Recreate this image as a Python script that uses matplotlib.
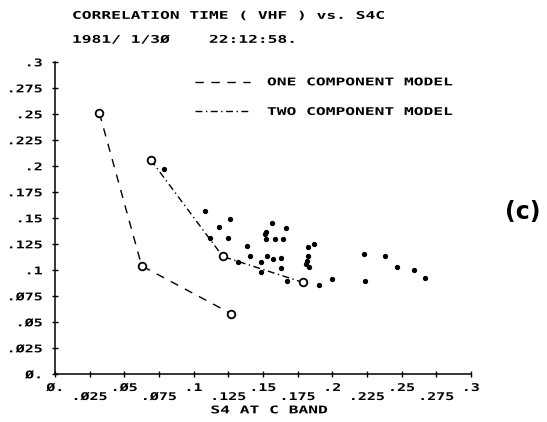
import numpy as np
import matplotlib
matplotlib.use("Agg")
import matplotlib.pyplot as plt
from matplotlib.lines import Line2D
from matplotlib.patheffects import AbstractPathEffect
from matplotlib.transforms import Affine2D

# ---------------- data ----------------
one_x = [0.032, 0.0625, 0.127]
one_y = [0.251, 0.104, 0.058]

two_x = [0.069, 0.121, 0.179]
two_y = [0.206, 0.113, 0.088]

obs_x = [0.0788, 0.1081, 0.1262, 0.1182, 0.1118, 0.1245, 0.1382, 0.1567, 0.1665,
         0.1519, 0.1514, 0.1521, 0.1586, 0.1642, 0.1406, 0.1531, 0.1574, 0.1629,
         0.1485, 0.1322, 0.1627, 0.1485, 0.1826, 0.1869, 0.1826, 0.1815, 0.1810,
         0.1831, 0.1675, 0.1901, 0.1995, 0.2230, 0.2235, 0.2379, 0.2468, 0.2591,
         0.2668]
obs_y = [0.1971, 0.1570, 0.1490, 0.1416, 0.1305, 0.1305, 0.1231, 0.1449, 0.1404,
         0.1363, 0.1343, 0.1298, 0.1298, 0.1298, 0.1138, 0.1138, 0.1103, 0.1118,
         0.1080, 0.1080, 0.1022, 0.0978, 0.1218, 0.1250, 0.1135, 0.1089, 0.1058,
         0.1026, 0.0894, 0.0853, 0.0916, 0.1151, 0.0897, 0.1135, 0.1026, 0.1000,
         0.0926]

y_ticks = [0.0, 0.025, 0.05, 0.075, 0.1, 0.125, 0.15, 0.175, 0.2, 0.225, 0.25, 0.275, 0.3]
y_tick_labels = ["Ø.", ".Ø25", ".Ø5", ".Ø75", ".1", ".125", ".15", ".175", ".2",
                 ".225", ".25", ".275", ".3"]
x_major_ticks = [0.0, 0.05, 0.1, 0.15, 0.2, 0.25, 0.3]
x_major_labels = ["Ø.", ".Ø5", ".1", ".15", ".2", ".25", ".3"]
x_minor_ticks = [0.025, 0.075, 0.125, 0.175, 0.225, 0.275]
x_minor_labels = [".Ø25", ".Ø75", ".125", ".175", ".225", ".275"]

title_line1 = "CORRELATION TIME ( VHF ) vs. S4C"
title_line2 = "1981/ 1/3Ø    22:12:58."
x_label = "S4 AT C BAND"
legend_one = "ONE COMPONENT MODEL"
legend_two = "TWO COMPONENT MODEL"
panel_tag = "(c)"


# plotter-style wide lettering: stretch the glyph outlines of real text objects
class Stretch(AbstractPathEffect):
    def __init__(self, sx=1.0, sy=1.0, anchor="left"):
        super().__init__()
        self.sx, self.sy, self.anchor = sx, sy, anchor

    def draw_path(self, renderer, gc, tpath, affine, rgbFace=None):
        ext = tpath.get_extents()
        if self.anchor == "left":
            cx = 0.0
        elif self.anchor == "right":
            cx = ext.x1
        else:
            cx = 0.5 * (ext.x0 + ext.x1)
        cy = 36.0  # middle of the capitals in text-path units
        t = Affine2D().translate(-cx, -cy).scale(self.sx, self.sy).translate(cx, cy)
        renderer.draw_path(gc, tpath, t + affine, rgbFace)


# ---------------- figure ----------------
W, H = 547, 422
fig = plt.figure(figsize=(W / 100, H / 100), dpi=100)
ax = fig.add_axes([55 / W, 48 / H, 416 / W, 312 / H])
MONO = "DejaVu Sans Mono"
FS = 9
WEIGHT = "bold"
SX, SY = 1.3, 0.85

ax.set_xlim(0, 0.3)
ax.set_ylim(0, 0.3)
for s in ("top", "right"):
    ax.spines[s].set_visible(False)
for s in ("left", "bottom"):
    ax.spines[s].set_linewidth(1.1)

ax.set_yticks(y_ticks, y_tick_labels)
ax.set_xticks(x_major_ticks, x_major_labels)
ax.set_xticks(x_minor_ticks, x_minor_labels, minor=True)
ax.tick_params(axis="both", which="both", direction="inout", length=5, width=1,
               labelsize=FS)
ax.tick_params(axis="x", which="major", pad=3)
ax.tick_params(axis="x", which="minor", pad=9.5)
ax.tick_params(axis="y", pad=6.5)
for lab in ax.get_xticklabels(which="both"):
    lab.set_family(MONO)
    lab.set_weight(WEIGHT)
    lab.set_path_effects([Stretch(1.2, SY, "center")])
for lab in ax.get_yticklabels():
    lab.set_family(MONO)
    lab.set_weight(WEIGHT)
    lab.set_path_effects([Stretch(1.2, SY, "right")])

dash1 = (6, 5.5)
dash2 = (5, 2.5, 1, 2.5)

ax.plot(one_x, one_y, color="black", lw=1, dashes=dash1, marker="o", ms=5.5,
        mfc="white", mec="black", mew=1.3, zorder=3)
ax.plot(two_x, two_y, color="black", lw=1, dashes=dash2, marker="o", ms=5.5,
        mfc="white", mec="black", mew=1.3, zorder=3)
ax.plot(obs_x, obs_y, linestyle="none", marker="o", ms=2.8, color="black", zorder=2)

# legend
handles = [Line2D([], [], color="black", lw=1, dashes=dash1),
           Line2D([], [], color="black", lw=1, dashes=dash2)]
leg = ax.legend(handles, [legend_one, legend_two], loc="upper left",
                bbox_to_anchor=((195 - 55) / 416, (374 - 76) / 312),
                frameon=False, handlelength=4.4, handletextpad=1.36,
                labelspacing=1.33, borderpad=0, borderaxespad=0,
                prop={"family": MONO, "size": FS, "weight": WEIGHT})
for t in leg.get_texts():
    t.set_path_effects([Stretch(SX, SY, "left")])

xl = ax.set_xlabel(x_label, family=MONO, fontsize=FS, weight=WEIGHT, labelpad=0)
xl.set_path_effects([Stretch(SX, SY, "center")])
ax.xaxis.set_label_coords((269 - 55) / 416, -(404 - 374) / 312)

for txt, yy in ((title_line1, 16), (title_line2, 40)):
    t = fig.text(72 / W, 1 - yy / H, txt, family=MONO, fontsize=FS, weight=WEIGHT,
                 va="center", ha="left")
    t.set_path_effects([Stretch(SX, SY, "left")])

fig.text(523 / W, 1 - 212 / H, panel_tag, fontsize=17, fontweight="bold",
         va="center", ha="center")

fig.savefig("out.png", dpi=100)
